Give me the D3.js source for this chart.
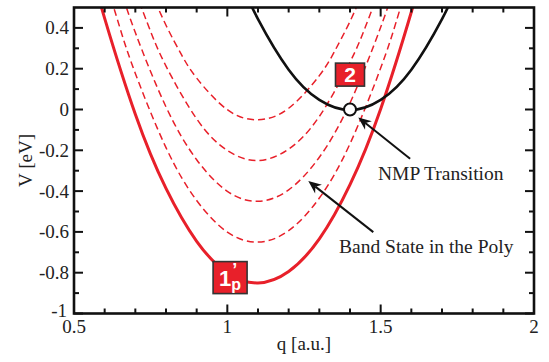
<!DOCTYPE html>
<html>
<head>
<meta charset="utf-8">
<script src="https://cdn.jsdelivr.net/npm/d3@7"></script>
<style>
  html, body { margin: 0; padding: 0; background: #fff; }
  svg { display: block; }
  .tick-label, .axis-title, .note { font-family: "Liberation Serif", "Times New Roman", serif; fill: #222; }
  .badge-text { font-family: "Liberation Sans", Arial, sans-serif; font-weight: bold; fill: #fff; }
</style>
</head>
<body>
<svg id="chart" width="549" height="362"></svg>
<script>
// Configuration coordinate q [a.u.] and energy V [eV] for each potential curve
const qPoly = [0.56, 0.6, 0.7, 0.8, 0.9, 1.0, 1.1, 1.2, 1.3, 1.4, 1.5, 1.6, 1.64];
const vPoly = [0.664, 0.447, -0.023, -0.387, -0.646, -0.801, -0.85, -0.794, -0.634, -0.368, 0.003, 0.478, 0.698];

const qBand1 = [0.6, 0.65, 0.7, 0.8, 0.9, 1.0, 1.1, 1.2, 1.3, 1.4, 1.5, 1.55, 1.6];
const vBand1 = [0.647, 0.399, 0.177, -0.187, -0.446, -0.601, -0.65, -0.594, -0.434, -0.168, 0.203, 0.427, 0.678];

const qBand2 = [0.65, 0.7, 0.8, 0.9, 1.0, 1.1, 1.2, 1.3, 1.4, 1.5, 1.55];
const vBand2 = [0.599, 0.377, 0.013, -0.246, -0.401, -0.45, -0.394, -0.234, 0.032, 0.403, 0.627];

const qBand3 = [0.7, 0.75, 0.8, 0.9, 1.0, 1.1, 1.2, 1.3, 1.4, 1.45, 1.5];
const vBand3 = [0.577, 0.382, 0.213, -0.046, -0.201, -0.25, -0.194, -0.034, 0.232, 0.404, 0.603];

const qBand4 = [0.75, 0.8, 0.85, 0.9, 1.0, 1.1, 1.2, 1.3, 1.35, 1.4, 1.45];
const vBand4 = [0.582, 0.413, 0.27, 0.154, -0.001, -0.05, 0.006, 0.166, 0.286, 0.432, 0.604];

const qDefect = [1.05, 1.1, 1.2, 1.3, 1.4, 1.5, 1.6, 1.7, 1.75];
const vDefect = [0.603, 0.443, 0.195, 0.047, -0.003, 0.047, 0.195, 0.443, 0.603];

// Crossing point marked on the defect curve
const transitionQ = [1.40];
const transitionV = [0.0];

// Axis ticks
const xMajorTicks = [0.5, 1, 1.5, 2];
const xTickLabels = ["0.5", "1", "1.5", "2"];
const xMinorTicks = [0.6, 0.7, 0.8, 0.9, 1.1, 1.2, 1.3, 1.4, 1.6, 1.7, 1.8, 1.9];
const yMajorTicks = [-1, -0.8, -0.6, -0.4, -0.2, 0, 0.2, 0.4];
const yTickLabels = ["-1", "-0.8", "-0.6", "-0.4", "-0.2", "0", "0.2", "0.4"];
const yMinorTicks = [-0.9, -0.7, -0.5, -0.3, -0.1, 0.1, 0.3];

const RED = "#e8202a";

const svg = d3.select("#chart");
const plotLeft = 74, plotRight = 534, plotTop = 7.5, plotBottom = 313.5;

const x = d3.scaleLinear().domain([0.5, 2]).range([plotLeft, plotRight]);
const y = d3.scaleLinear().domain([-1, 0.5]).range([plotBottom, plotTop]);

svg.append("rect").attr("width", 549).attr("height", 362).attr("fill", "#fff");

svg.append("defs").append("clipPath").attr("id", "plot-clip")
  .append("rect").attr("x", plotLeft).attr("y", plotTop)
  .attr("width", plotRight - plotLeft).attr("height", plotBottom - plotTop);

const plot = svg.append("g").attr("clip-path", "url(#plot-clip)");

const line = d3.line().x(d => x(d[0])).y(d => y(d[1])).curve(d3.curveNatural);
const zip = (qs, vs) => qs.map((q, i) => [q, vs[i]]);

// dashed band states
[[qBand1, vBand1], [qBand2, vBand2], [qBand3, vBand3], [qBand4, vBand4]].forEach(([qs, vs]) => {
  plot.append("path")
    .attr("d", line(zip(qs, vs)))
    .attr("fill", "none")
    .attr("stroke", RED)
    .attr("stroke-width", 1.5)
    .attr("stroke-dasharray", "7,4");
});

// poly ground state
plot.append("path")
  .attr("d", line(zip(qPoly, vPoly)))
  .attr("fill", "none")
  .attr("stroke", RED)
  .attr("stroke-width", 3);

// defect state
plot.append("path")
  .attr("d", line(zip(qDefect, vDefect)))
  .attr("fill", "none")
  .attr("stroke", "#111")
  .attr("stroke-width", 2.6);

// frame and ticks
const axes = svg.append("g").attr("stroke", "#111");
axes.append("rect")
  .attr("x", plotLeft).attr("y", plotTop)
  .attr("width", plotRight - plotLeft).attr("height", plotBottom - plotTop)
  .attr("fill", "none").attr("stroke-width", 2.6);

function xTicks(vals, len) {
  vals.forEach(v => {
    axes.append("line").attr("x1", x(v)).attr("x2", x(v)).attr("y1", plotBottom).attr("y2", plotBottom - len).attr("stroke-width", 2);
    axes.append("line").attr("x1", x(v)).attr("x2", x(v)).attr("y1", plotTop).attr("y2", plotTop + len).attr("stroke-width", 2);
  });
}
function yTicks(vals, len) {
  vals.forEach(v => {
    axes.append("line").attr("y1", y(v)).attr("y2", y(v)).attr("x1", plotLeft).attr("x2", plotLeft + len).attr("stroke-width", 2);
    axes.append("line").attr("y1", y(v)).attr("y2", y(v)).attr("x1", plotRight).attr("x2", plotRight - len).attr("stroke-width", 2);
  });
}
xTicks(xMajorTicks, 9);
xTicks(xMinorTicks, 5);
yTicks(yMajorTicks, 9);
yTicks(yMinorTicks, 5);

// tick labels
svg.append("g").selectAll("text").data(xMajorTicks).join("text")
  .attr("class", "tick-label")
  .attr("x", d => x(d)).attr("y", plotBottom + 19)
  .attr("text-anchor", "middle")
  .attr("font-size", 19)
  .text((d, i) => xTickLabels[i]);

// the lowest y label sits a little higher so it clears the first x label
svg.append("g").selectAll("text").data(yMajorTicks).join("text")
  .attr("class", "tick-label")
  .attr("x", d => d === -1 ? plotLeft - 7 : plotLeft - 5)
  .attr("y", d => y(d) + (d === -1 ? 3.5 : 6.5))
  .attr("text-anchor", "end")
  .attr("font-size", 19)
  .text((d, i) => yTickLabels[i]);

// axis titles
svg.append("text").attr("class", "axis-title")
  .attr("x", (plotLeft + plotRight) / 2).attr("y", 350)
  .attr("text-anchor", "middle").attr("font-size", 19)
  .text("q [a.u.]");

svg.append("text").attr("class", "axis-title")
  .attr("transform", `translate(32,${(plotTop + plotBottom) / 2}) rotate(-90)`)
  .attr("text-anchor", "middle").attr("font-size", 19)
  .text("V [eV]");

// transition marker
svg.selectAll("circle.transition").data(transitionQ).join("circle")
  .attr("class", "transition")
  .attr("cx", d => x(d)).attr("cy", (d, i) => y(transitionV[i]))
  .attr("r", 6)
  .attr("fill", "#fff").attr("stroke", "#111").attr("stroke-width", 2);

// arrows
function arrow(q0, v0, q1, v1) {
  const x0 = x(q0), y0 = y(v0), x1 = x(q1), y1 = y(v1);
  const ang = Math.atan2(y1 - y0, x1 - x0);
  const L = 13, W = 5.5, notch = 9;
  const bx = x1 - L * Math.cos(ang), by = y1 - L * Math.sin(ang);
  const nx = x1 - notch * Math.cos(ang), ny = y1 - notch * Math.sin(ang);
  const px = -Math.sin(ang), py = Math.cos(ang);
  svg.append("line")
    .attr("x1", x0).attr("y1", y0).attr("x2", nx).attr("y2", ny)
    .attr("stroke", "#111").attr("stroke-width", 2);
  svg.append("path")
    .attr("d", `M${x1},${y1}L${bx + W * px},${by + W * py}L${nx},${ny}L${bx - W * px},${by - W * py}Z`)
    .attr("fill", "#111");
}
arrow(1.596, -0.241, 1.427, -0.039);
arrow(1.476, -0.601, 1.264, -0.351);

// annotations
svg.append("text").attr("class", "note")
  .attr("x", 378).attr("y", 180).attr("font-size", 19.5)
  .text("NMP Transition");
svg.append("text").attr("class", "note")
  .attr("x", 339).attr("y", 253).attr("font-size", 19.5)
  .text("Band State in the Poly");

// state badges
function badge(cx, cy, w, h) {
  const g = svg.append("g").attr("transform", `translate(${cx},${cy})`);
  g.append("rect")
    .attr("x", -w / 2).attr("y", -h / 2).attr("width", w).attr("height", h)
    .attr("fill", RED).attr("stroke", "#333").attr("stroke-width", 1.6);
  return g;
}
const b2 = badge(x(1.400), y(0.171), 29, 23);
b2.append("text").attr("class", "badge-text")
  .attr("x", 0).attr("y", 7.5).attr("text-anchor", "middle").attr("font-size", 21)
  .text("2");

const b1 = badge(x(1.009), y(-0.824), 34, 32);
const t1 = b1.append("text").attr("class", "badge-text").attr("x", -11).attr("y", 8).attr("font-size", 22);
t1.append("tspan").text("1");
t1.append("tspan").attr("font-size", 18).attr("dx", 1).attr("dy", -10).text("’");
t1.append("tspan").attr("font-size", 16).attr("dx", -6).attr("dy", 14).text("p");
</script>
</body>
</html>
